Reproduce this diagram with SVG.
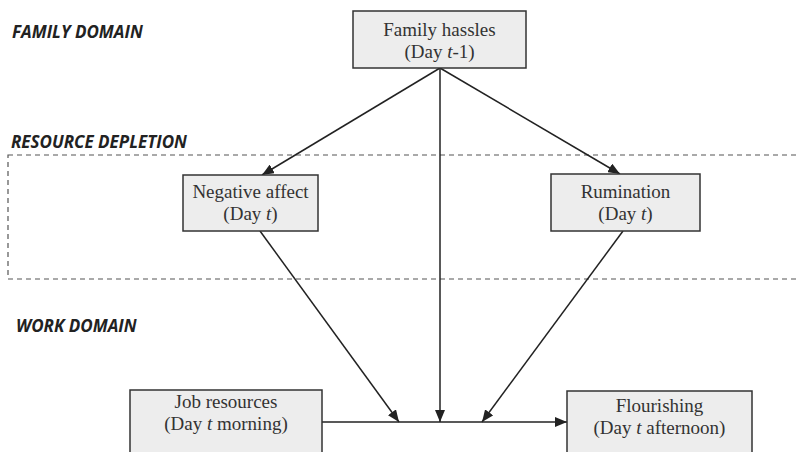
<svg xmlns="http://www.w3.org/2000/svg" width="796" height="452" viewBox="0 0 796 452">
<style>
.box{fill:#ededed;stroke:#333;stroke-width:1.5}
.t{font-family:"Liberation Serif","Times New Roman",serif;font-size:19px;fill:#333;text-anchor:middle}
.h{font-family:"Open Sans","Liberation Sans",sans-serif;font-size:17px;font-weight:bold;font-style:italic;fill:#222}
.c{stroke:#222;stroke-width:1.5;fill:none;marker-end:url(#ah)}
</style>
<defs>
<marker id="ah" markerUnits="userSpaceOnUse" markerWidth="12" markerHeight="10" refX="12" refY="5" orient="auto">
<path d="M0,0 L12,5 L0,10 z" fill="#222"/>
</marker>
</defs>
<rect x="0" y="0" width="796" height="452" fill="#fff"/>
<g id="labels">
<text class="h" x="12" y="38">FAMILY DOMAIN</text>
<text class="h" x="11" y="148">RESOURCE DEPLETION</text>
<text class="h" x="16" y="332">WORK DOMAIN</text>
</g>
<rect id="depletion" x="8" y="155" width="800" height="124" fill="none" stroke="#555" stroke-width="1.2" stroke-dasharray="5,4"/>
<g id="connectors">
<line class="c" x1="440" y1="68" x2="262" y2="175"/>
<line class="c" x1="440" y1="68" x2="620" y2="174"/>
<line class="c" x1="440" y1="68" x2="440" y2="422"/>
<line class="c" x1="260" y1="231" x2="399" y2="422"/>
<line class="c" x1="623" y1="231" x2="482" y2="422"/>
<line class="c" x1="322" y1="422" x2="567" y2="422"/>
</g>
<g id="family-hassles">
<rect class="box" x="353" y="11" width="173" height="57"/>
<text class="t" x="439.5" y="36">Family hassles</text>
<text class="t" x="439.5" y="58">(Day <tspan font-style="italic">t</tspan>-1)</text>
</g>
<g id="negative-affect">
<rect class="box" x="183" y="175" width="135" height="56"/>
<text class="t" x="250.5" y="198">Negative affect</text>
<text class="t" x="250.5" y="220">(Day <tspan font-style="italic">t</tspan>)</text>
</g>
<g id="rumination">
<rect class="box" x="551" y="174" width="149" height="57"/>
<text class="t" x="625.5" y="198">Rumination</text>
<text class="t" x="625.5" y="220">(Day <tspan font-style="italic">t</tspan>)</text>
</g>
<g id="job-resources">
<rect class="box" x="130" y="390" width="192" height="80"/>
<text class="t" x="226" y="408">Job resources</text>
<text class="t" x="226" y="430">(Day <tspan font-style="italic">t</tspan> morning)</text>
</g>
<g id="flourishing">
<rect class="box" x="567" y="391" width="185" height="80"/>
<text class="t" x="659.5" y="412">Flourishing</text>
<text class="t" x="659.5" y="434">(Day <tspan font-style="italic">t</tspan> afternoon)</text>
</g>
</svg>
